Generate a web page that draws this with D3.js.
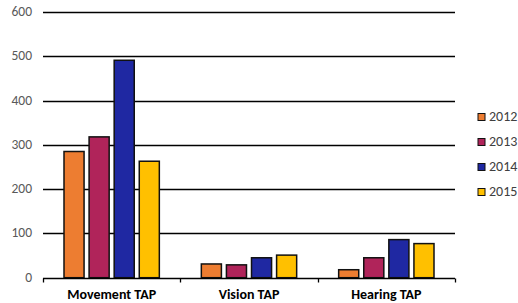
<!DOCTYPE html>
<html lang="en">
<head>
    <meta charset="UTF-8">
    <title>TAP by year</title>
    <style>
        body { margin: 0; background: #fff; font-family: Carlito, "Liberation Sans", Arial, sans-serif; }
        .tick text { fill: #595959; font-size: 13.5px; }
        .cat text { font-size: 14px; font-weight: bold; fill: #000; }
        .legend text { font-size: 14px; fill: #404040; }
    </style>
</head>
<body>
    <script src="https://d3js.org/d3.v7.min.js"></script>
    <script>
        // chart data
        const categories = ["Movement TAP", "Vision TAP", "Hearing TAP"];
        const years = ["2012", "2013", "2014", "2015"];
        const values2012 = [285, 31, 18];
        const values2013 = [318, 29, 45];
        const values2014 = [491, 45, 86];
        const values2015 = [263, 51, 77];
        const yTicks = [0, 100, 200, 300, 400, 500, 600];

        const colors = ["#ED7D31", "#B0245A", "#1F28A2", "#FFC000"];
        const series = [values2012, values2013, values2014, values2015];

        const width = 518, height = 303;
        const margin = {top: 12, right: 63, bottom: 25, left: 43};

        const svg = d3.select("body").append("svg")
            .attr("width", width)
            .attr("height", height);

        const x0 = d3.scaleBand()
            .domain(categories)
            .range([margin.left, width - margin.right])
            .paddingInner(0)
            .paddingOuter(0);

        const x1 = d3.scaleBand()
            .domain(years)
            .range([21, x0.bandwidth() - 21])
            .paddingInner(0.2);

        const y = d3.scaleLinear()
            .domain([0, 600])
            .range([height - margin.bottom - 0.3, margin.top]);

        // gridlines
        svg.append("g")
            .selectAll("line")
            .data(yTicks.slice(1))
            .enter().append("line")
            .attr("x1", margin.left)
            .attr("x2", width - margin.right)
            .attr("y1", d => Math.round(y(d)) + 0.5)
            .attr("y2", d => Math.round(y(d)) + 0.5)
            .attr("stroke", "#000")
            .attr("stroke-width", 1.3);

        // y tick labels
        const yAxis = svg.append("g")
            .attr("class", "tick");
        yAxis.selectAll("text")
            .data(yTicks)
            .enter().append("text")
            .attr("x", 32)
            .attr("y", d => Math.round(y(d)) + 0.5)
            .attr("text-anchor", "end")
            .attr("dominant-baseline", "middle")
            .text(d => d);

        // bars
        const groups = svg.append("g")
            .selectAll("g")
            .data(categories)
            .enter().append("g")
            .attr("transform", d => `translate(${x0(d)},0)`);

        groups.selectAll("rect")
            .data((d, i) => years.map((yr, j) => ({year: yr, value: series[j][i], color: colors[j]})))
            .enter().append("rect")
            .attr("x", d => x1(d.year))
            .attr("y", d => y(d.value))
            .attr("width", x1.bandwidth())
            .attr("height", d => y(0) - y(d.value))
            .attr("fill", d => d.color)
            .attr("stroke", "#111")
            .attr("stroke-width", 1.5);

        // x axis line + ticks
        const base = Math.round(y(0)) + 0.5;
        svg.append("line")
            .attr("x1", margin.left)
            .attr("x2", width - margin.right)
            .attr("y1", base)
            .attr("y2", base)
            .attr("stroke", "#000")
            .attr("stroke-width", 1.3);

        const boundaries = categories.map(c => x0(c)).concat([width - margin.right]);
        svg.append("g")
            .selectAll("line")
            .data(boundaries)
            .enter().append("line")
            .attr("x1", d => Math.round(d) + 0.5)
            .attr("x2", d => Math.round(d) + 0.5)
            .attr("y1", base)
            .attr("y2", base + 4)
            .attr("stroke", "#000")
            .attr("stroke-width", 1.3);

        // category labels
        svg.append("g")
            .attr("class", "cat")
            .selectAll("text")
            .data(categories)
            .enter().append("text")
            .attr("x", d => x0(d) + x0.bandwidth() / 2)
            .attr("y", 299)
            .attr("text-anchor", "middle")
            .text(d => d);

        // legend
        const legend = svg.append("g")
            .attr("class", "legend")
            .selectAll("g")
            .data(years)
            .enter().append("g")
            .attr("transform", (d, i) => `translate(478,${117 + i * 25})`);

        legend.append("rect")
            .attr("x", 0)
            .attr("y", -3.5)
            .attr("width", 7)
            .attr("height", 7)
            .attr("fill", (d, i) => colors[i])
            .attr("stroke", "#111")
            .attr("stroke-width", 1);

        legend.append("text")
            .attr("x", 11)
            .attr("y", 0.5)
            .attr("dominant-baseline", "middle")
            .text(d => d);
    </script>
</body>
</html>
